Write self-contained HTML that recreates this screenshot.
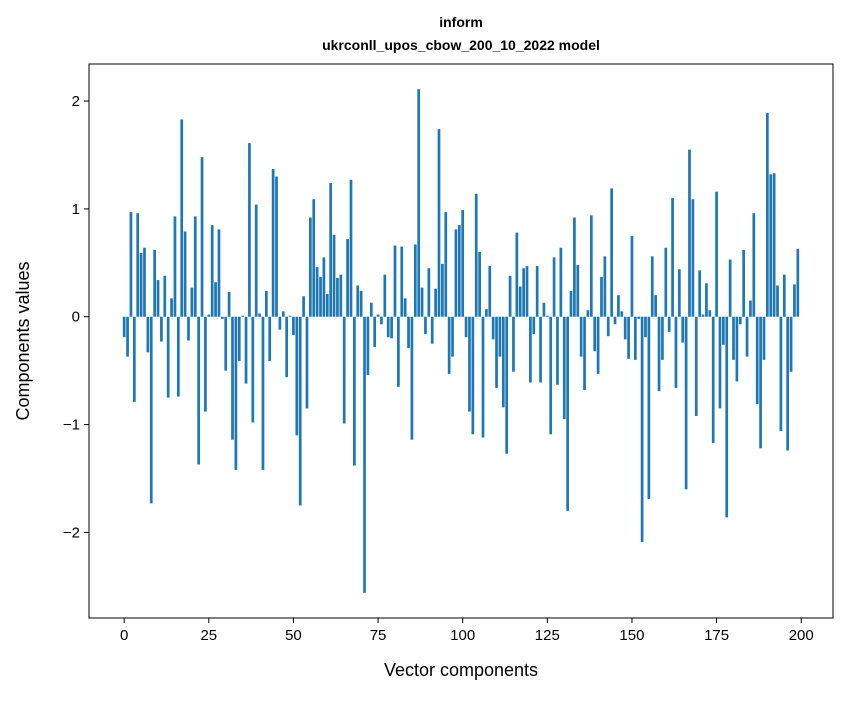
<!DOCTYPE html>
<html><head><meta charset="utf-8"><style>
body{margin:0;background:#fff;font-family:"Liberation Sans",sans-serif}
</style></head><body>
<svg id="chart" width="847" height="696" xmlns="http://www.w3.org/2000/svg" font-family="Liberation Sans, sans-serif">
<rect width="847" height="696" fill="#fff"/>
<text x="461" y="27" text-anchor="middle" font-size="14" font-weight="bold">inform</text>
<text x="461" y="50" text-anchor="middle" font-size="14" font-weight="bold">ukrconll_upos_cbow_200_10_2022 model</text>
<g id="bars"></g>
<g id="axes"></g>
<text x="461" y="676" text-anchor="middle" font-size="18">Vector components</text>
<text x="0" y="0" transform="translate(29,341) rotate(-90)" text-anchor="middle" font-size="18">Components values</text>
</svg>
<script>
const values = [-0.19,-0.37,0.97,-0.79,0.96,0.59,0.64,-0.33,-1.73,0.62,
0.34,-0.23,0.38,-0.75,0.17,0.93,-0.74,1.83,0.79,-0.22,
0.27,0.93,-1.37,1.48,-0.88,0.02,0.85,0.32,0.81,-0.02,
-0.5,0.23,-1.14,-1.42,-0.41,0.01,-0.62,1.61,-0.98,1.04,
0.03,-1.42,0.24,-0.41,1.37,1.3,-0.12,0.05,-0.56,0.01,
-0.17,-1.1,-1.75,0.19,-0.85,0.92,1.09,0.46,0.37,0.55,
0.21,1.24,0.76,0.36,0.39,-0.99,0.72,1.27,-1.38,0.29,
0.24,-2.56,-0.54,0.13,-0.28,0.02,-0.07,0.39,-0.19,-0.2,
0.66,-0.65,0.65,0.17,-0.29,-1.14,0.67,2.11,0.27,-0.16,
0.45,-0.25,0.26,1.74,0.49,0.97,-0.53,-0.37,0.81,0.85,
0.99,-0.19,-0.88,-1.09,1.14,0.6,-1.12,0.07,0.47,-0.21,
-0.66,-0.37,-0.84,-1.27,0.38,-0.51,0.78,0.28,0.45,0.47,
-0.61,-0.16,0.47,-0.61,0.13,0.01,-1.09,0.55,-0.63,0.64,
-0.95,-1.8,0.24,0.92,0.48,-0.37,-0.68,0.06,0.94,-0.32,
-0.53,0.37,0.56,-0.18,1.19,-0.07,0.2,0.05,-0.21,-0.39,
0.75,-0.4,-0.02,-2.09,-0.19,-1.69,0.56,0.2,-0.69,-0.4,
0.64,-0.14,1.1,-0.66,0.44,-0.24,-1.6,1.55,1.09,-0.92,
0.43,0.02,0.31,0.06,-1.17,1.16,-0.85,-0.26,-1.86,0.53,
-0.4,-0.6,-0.07,0.62,-0.37,0.15,0.96,-0.81,-1.22,-0.4,
1.89,1.32,1.33,0.29,-1.06,0.39,-1.24,-0.51,0.3,0.63];
const xTicks = [0,25,50,75,100,125,150,175,200];
const yTicks = [-2,-1,0,1,2];
const NS="http://www.w3.org/2000/svg";
const L=89,R=833,T=64,B=618;
const n=values.length;
const xlo=-0.4,xhi=n-1+0.4,xm=(xhi-xlo)*0.05;
const x0=xlo-xm,x1=xhi+xm;
const vmin=Math.min(0,...values),vmax=Math.max(0,...values),ym=(vmax-vmin)*0.05;
const y0=vmin-ym,y1=vmax+ym;
const sx=v=>L+(v-x0)/(x1-x0)*(R-L);
const sy=v=>B-(v-y0)/(y1-y0)*(B-T);
const bars=document.getElementById('bars');
values.forEach((v,i)=>{
  const r=document.createElementNS(NS,'rect');
  
  
  const a=sx(i-0.4),b=sx(i+0.4);
  r.setAttribute('x',a);r.setAttribute('width',b-a);
  r.setAttribute('y',Math.min(sy(v),sy(0)));
  r.setAttribute('height',Math.abs(sy(v)-sy(0)));
  r.setAttribute('fill','#1f77b4');
  bars.appendChild(r);
});
const ax=document.getElementById('axes');
function el(tag,attrs,txt){const e=document.createElementNS(NS,tag);for(const k in attrs)e.setAttribute(k,attrs[k]);if(txt!==undefined)e.textContent=txt;ax.appendChild(e);return e;}
const frame=el('rect',{x:L,y:T,width:R-L,height:B-T,fill:'none',stroke:'#000','stroke-width':1});


xTicks.forEach(t=>{
  const x=sx(t);
  const l=el('line',{x1:x,x2:x,y1:B,y2:B+5,stroke:'#000'});
  
  
  const s=el('text',{x:x,y:B+22,'text-anchor':'middle','font-size':15},String(t));
  
  
});
yTicks.forEach(t=>{
  const y=sy(t);
  const l=el('line',{x1:L-5,x2:L,y1:y,y2:y,stroke:'#000'});
  
  
  const s=el('text',{x:L-9,y:y+5,'text-anchor':'end','font-size':15},t<0?'\u2212'+(-t):String(t));
  
  
});
</script>
</body></html>
